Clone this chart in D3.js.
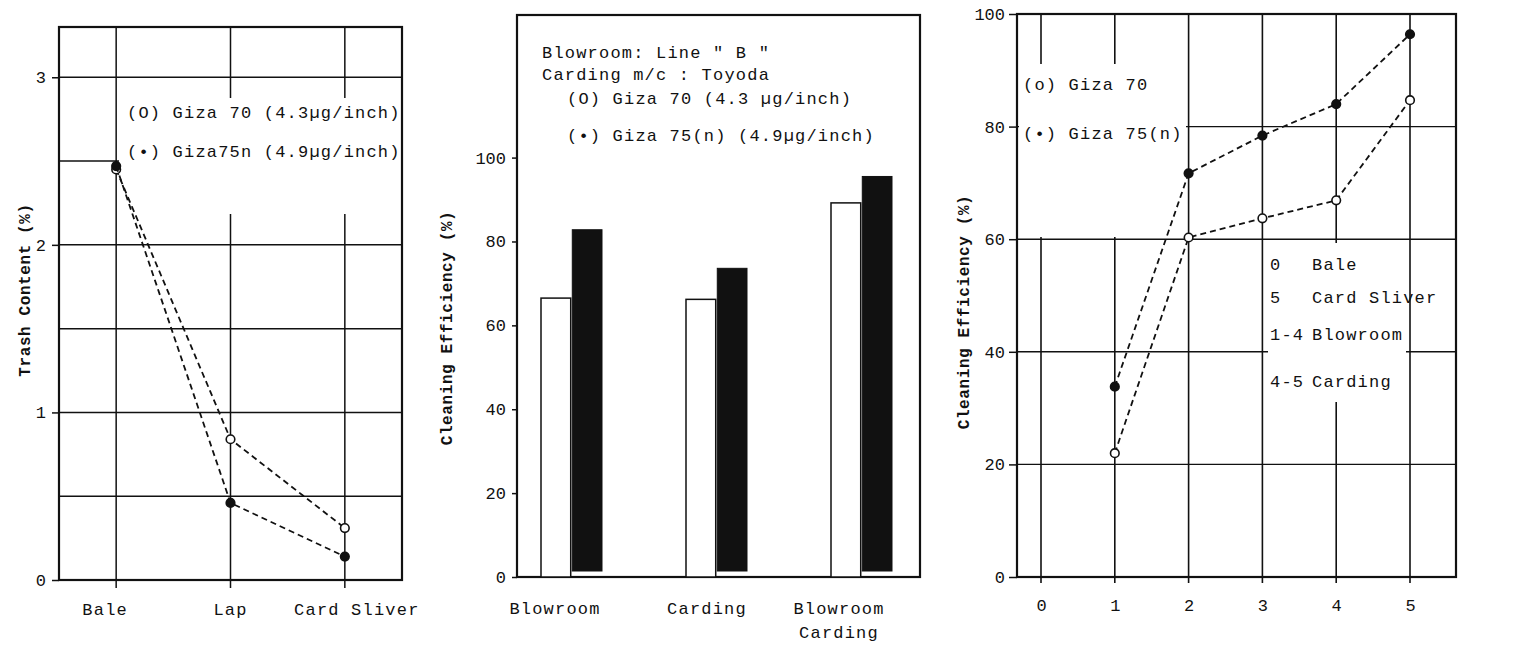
<!DOCTYPE html>
<html>
<head>
<meta charset="utf-8">
<script src="https://cdn.jsdelivr.net/npm/d3@7"></script>
<style>
  body { margin: 0; background: #fff; }
  text { font-family: "Liberation Mono", "DejaVu Sans Mono", monospace; fill: #111; }
</style>
</head>
<body>
<div id="chart"></div>
<script>
/* Cleaning efficiency figure: three panels */

// ---- Panel 1 data: trash content by stage
const stages = ["Bale", "Lap", "Card Sliver"];
const trashGiza70 = [2.45, 0.84, 0.31];
const trashGiza75 = [2.47, 0.46, 0.14];
const trashTicks = [0, 1, 2, 3];
const trashGrid = [0.5, 1, 1.5, 2, 2.5, 3];

// ---- Panel 2 data: cleaning efficiency by process
const processes = ["Blowroom", "Carding", "Blowroom|Carding"];
const effGiza70 = [66.5, 66.2, 89.2];
const effGiza75 = [82.8, 73.6, 95.5];
const effTicks = [0, 20, 40, 60, 80, 100];

// ---- Panel 3 data: cumulative cleaning efficiency by point
const points = [1, 2, 3, 4, 5];
const pointTicks = [0, 1, 2, 3, 4, 5];
const cumGiza70 = [22.0, 60.3, 63.7, 66.9, 84.7];
const cumGiza75 = [33.8, 71.7, 78.4, 84.0, 96.4];
const cumTicks = [0, 20, 40, 60, 80, 100];
const keyCodes = ["0", "5", "1-4", "4-5"];
const keyNames = ["Bale", "Card Sliver", "Blowroom", "Carding"];

const svgW = 1539;
const svgH = 645;
const ink = "#111";
const fontSize = 17;

var svg = d3.select("#chart")
  .append("svg")
  .attr("width", svgW)
  .attr("height", svgH);

// helper for the typewriter text
function label(g, x, y, txt, anchor) {
  return g.append("text")
    .attr("x", x)
    .attr("y", y)
    .attr("text-anchor", anchor || "start")
    .style("font-size", fontSize + "px")
    .style("letter-spacing", "1.2px")
    .text(txt);
}

// white patch so the grid stops round a text block
function blank(g, x0, y0, x1, y1) {
  g.append("rect")
    .attr("x", x0).attr("y", y0)
    .attr("width", x1 - x0).attr("height", y1 - y0)
    .attr("fill", "#fff");
}

function frame(g, x0, x1, y0, y1) {
  g.append("rect")
    .attr("x", x0).attr("y", y0)
    .attr("width", x1 - x0).attr("height", y1 - y0)
    .attr("fill", "none")
    .attr("stroke", ink)
    .attr("stroke-width", 2.2);
}

function yTitle(g, x, y, txt) {
  g.append("text")
    .attr("transform", `translate(${x}, ${y}) rotate(-90)`)
    .attr("text-anchor", "middle")
    .style("font-size", "16px")
    .style("font-weight", "bold")
    .style("letter-spacing", "0.6px")
    .text(txt);
}

function styleAxis(axis) {
  axis.select(".domain").remove();
  axis.selectAll("line").attr("stroke", ink).attr("stroke-width", 1.5);
  axis.selectAll("text").style("font-size", fontSize + "px").attr("font-family", null);
}

function dashedSeries(g, xs, ys, x, y, filled) {
  var line = d3.line()
    .x((d, i) => x(xs[i]))
    .y(d => y(d));
  g.append("path")
    .attr("d", line(ys))
    .attr("fill", "none")
    .attr("stroke", ink)
    .attr("stroke-width", 1.8)
    .attr("stroke-dasharray", "6,4");
  g.selectAll(null)
    .data(ys)
    .enter()
    .append("circle")
    .attr("cx", (d, i) => x(xs[i]))
    .attr("cy", d => y(d))
    .attr("r", 4.3)
    .attr("fill", filled ? ink : "#fff")
    .attr("stroke", ink)
    .attr("stroke-width", 1.6);
}

/*********************** Panel 1 ***********************/
function drawTrash() {
  var g = svg.append("g");
  var x = d3.scaleLinear().domain([-0.5, 2.5]).range([59, 402]);
  var y = d3.scaleLinear().domain([0, 3.3]).range([580, 27]);

  // grid
  g.selectAll(null).data(trashGrid).enter().append("line")
    .attr("x1", x(-0.5)).attr("x2", x(2.5))
    .attr("y1", d => y(d)).attr("y2", d => y(d))
    .attr("stroke", ink).attr("stroke-width", 1.5);
  g.selectAll(null).data(stages).enter().append("line")
    .attr("x1", (d, i) => x(i)).attr("x2", (d, i) => x(i))
    .attr("y1", y(3.3)).attr("y2", y(0) + 8)
    .attr("stroke", ink).attr("stroke-width", 1.5);

  var axis = g.append("g")
    .attr("transform", `translate(${x(-0.5)}, 0)`)
    .call(d3.axisLeft(y).tickValues(trashTicks).tickSize(7).tickPadding(6).tickFormat(d3.format("d")));
  styleAxis(axis);

  // legend block (clipped by frame, as in the original)
  blank(g, 119, 98, 401, 214);
  g.append("clipPath").attr("id", "clip1")
    .append("rect").attr("x", x(-0.5)).attr("y", y(3.3)).attr("width", x(2.5) - x(-0.5)).attr("height", y(0) - y(3.3));
  var lg = g.append("g").attr("clip-path", "url(#clip1)");
  label(lg, 127, 118, "(O) Giza 70 (4.3µg/inch)");
  label(lg, 127, 157, "(•) Giza75n (4.9µg/inch)");

  frame(g, x(-0.5), x(2.5), y(3.3), y(0));

  dashedSeries(g, [0, 1, 2], trashGiza70, x, y, false);
  dashedSeries(g, [0, 1, 2], trashGiza75, x, y, true);

  stages.forEach((s, i) => label(g, x(i) - (i === 0 ? 11 : 0) + (i === 2 ? 12 : 0), 615, s, "middle"));

  yTitle(g, 30, 290, "Trash Content  (%)");
}

/*********************** Panel 2 ***********************/
function drawBars() {
  var g = svg.append("g");
  var x = d3.scalePoint().domain(processes).range([571, 861]);
  var sub = d3.scaleBand().domain(["g70", "g75"]).range([-30, 31]).paddingInner(0.05);
  var y = d3.scaleLinear().domain([0, 134]).range([577, 15]);

  frame(g, 517, 920, y(134), y(0));

  var axis = g.append("g")
    .attr("transform", "translate(517, 0)")
    .call(d3.axisLeft(y).tickValues(effTicks).tickSize(5).tickPadding(6));
  styleAxis(axis);

  // open bars (Giza 70)
  g.selectAll(null).data(effGiza70).enter().append("rect")
    .attr("x", (d, i) => x(processes[i]) + sub("g70"))
    .attr("y", d => y(d))
    .attr("width", sub.bandwidth())
    .attr("height", d => y(0) - y(d))
    .attr("fill", "#fff")
    .attr("stroke", ink)
    .attr("stroke-width", 1.5);

  // filled bars (Giza 75)
  g.selectAll(null).data(effGiza75).enter().append("rect")
    .attr("x", (d, i) => x(processes[i]) + sub("g75"))
    .attr("y", d => y(d))
    .attr("width", sub.bandwidth())
    .attr("height", d => y(0) - y(d) - 6)
    .attr("fill", ink)
    .attr("stroke", ink)
    .attr("stroke-width", 1);

  // x labels, possibly two lines
  processes.forEach((p, i) => {
    p.split("|").forEach((line, j) => {
      label(g, x(p) - 16 + (i === 1 ? 7 : 0) + (i === 2 ? -6 : 0), 614 + j * 24, line, "middle");
    });
  });

  yTitle(g, 452, 328, "Cleaning Efficiency  (%)");

  label(g, 542, 58, "Blowroom: Line \" B \"");
  label(g, 542, 80, "Carding m/c : Toyoda");
  label(g, 567, 104, "(O) Giza 70 (4.3 µg/inch)");
  label(g, 567, 141, "(•) Giza 75(n) (4.9µg/inch)");
}

/*********************** Panel 3 ***********************/
function drawCumulative() {
  var g = svg.append("g");
  var x = d3.scaleLinear().domain([0, 5]).range([1041, 1410]);
  var y = d3.scaleLinear().domain([0, 100]).range([577, 14]);
  var xMin = x.invert(1017), xMax = x.invert(1456);

  // grid
  g.selectAll(null).data(cumTicks.slice(1)).enter().append("line")
    .attr("x1", x(xMin)).attr("x2", x(xMax))
    .attr("y1", d => y(d)).attr("y2", d => y(d))
    .attr("stroke", ink).attr("stroke-width", 1.4);

  // legend and key blocks (horizontal grid broken round them)
  blank(g, 1019, 64, 1186, 237);
  blank(g, 1268, 243, 1406, 402);

  g.selectAll(null).data(pointTicks).enter().append("line")
    .attr("x1", d => x(d)).attr("x2", d => x(d))
    .attr("y1", d => y(100))
    .attr("y2", y(0) + 6)
    .attr("stroke", ink).attr("stroke-width", 1.6);
  // white over the two left verticals and the 4 vertical where the text sits
  blank(g, 1030, 64, 1125, 237);
  blank(g, 1330, 243, 1346, 402);

  var axis = g.append("g")
    .attr("transform", `translate(${x(xMin)}, 0)`)
    .call(d3.axisLeft(y).tickValues(cumTicks).tickSize(8).tickPadding(4));
  styleAxis(axis);

  var xAxis = g.append("g")
    .attr("transform", `translate(0, ${y(0)})`)
    .call(d3.axisBottom(x).tickValues(pointTicks).tickSize(0).tickPadding(22).tickFormat(d3.format("d")));
  styleAxis(xAxis);

  label(g, 1023, 90, "(o) Giza 70");
  label(g, 1023, 139, "(•) Giza 75(n)");
  keyCodes.forEach((c, i) => {
    var yy = [270, 303, 340, 387][i];
    label(g, 1270, yy, c);
    label(g, 1312, yy, keyNames[i]);
  });

  frame(g, x(xMin), x(xMax), y(100), y(0));

  dashedSeries(g, points, cumGiza70, x, y, false);
  dashedSeries(g, points, cumGiza75, x, y, true);

  yTitle(g, 969, 312, "Cleaning Efficiency  (%)");
}

drawTrash();
drawBars();
drawCumulative();
</script>
</body>
</html>
